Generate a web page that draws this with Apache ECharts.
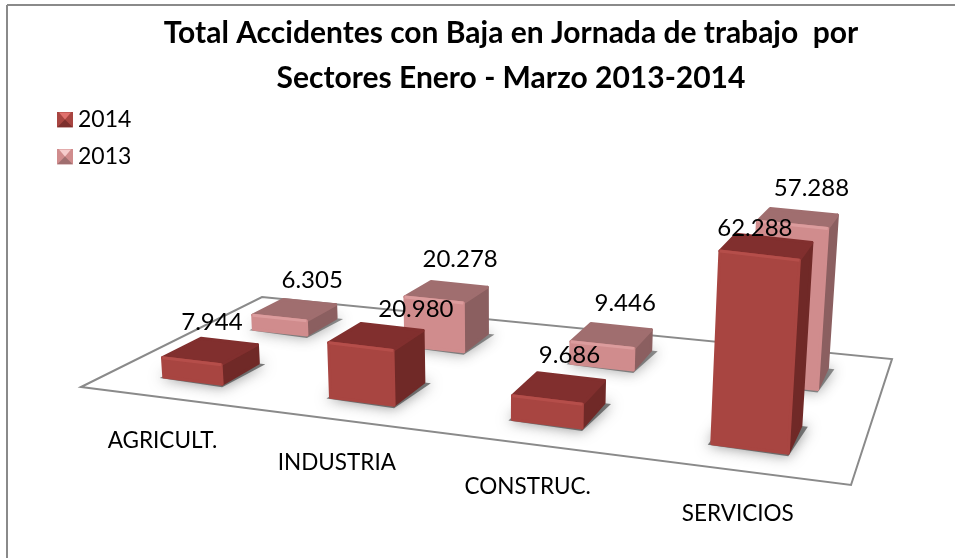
<!DOCTYPE html>
<html><head><meta charset="utf-8">
<style>html,body{margin:0;padding:0;background:#fff}#c{width:955px;height:558px}</style>
<script src="https://cdn.jsdelivr.net/npm/echarts@6/dist/echarts.min.js"></script>
</head><body><div id="c"></div>
<script>
const categories = ['AGRICULT.', 'INDUSTRIA', 'CONSTRUC.', 'SERVICIOS'];
const values2014 = [7.944, 20.980, 9.686, 62.288];
const values2013 = [6.305, 20.278, 9.446, 57.288];
const titleLines = ['Total Accidentes con Baja en Jornada de trabajo  por', 'Sectores Enero - Marzo 2013-2014'];

// Perspective floor (screen corners of the unit floor) and drawing constants
const A=[81,387], D=[851,485], C=[892,359], B=[262,297];
const dx1=D[0]-C[0], dx2=B[0]-C[0], dx3=A[0]-D[0]+C[0]-B[0];
const dy1=D[1]-C[1], dy2=B[1]-C[1], dy3=A[1]-D[1]+C[1]-B[1];
const den=dx1*dy2-dx2*dy1;
const hg=(dx3*dy2-dx2*dy3)/den, hh=(dx1*dy3-dx3*dy1)/den;
const ha=D[0]-A[0]+hg*D[0], hb=B[0]-A[0]+hh*B[0], hd=D[1]-A[1]+hg*D[1], he=B[1]-A[1]+hh*B[1];
function floorPt(u,v){const w=hg*u+hh*v+1;return [(ha*u+hb*v+A[0])/w,(hd*u+he*v+A[1])/w];}
function raise(p,h){return [p[0]+(p[0]-500)*h/5000,p[1]-h];}

const palette = {
  '2014': {front:'#a84541', top:'#812f2e', side:'#702927', hi:'#b54e4a', shadow:'rgba(70,70,70,0.7)'},
  '2013': {front:'#d08c8d', top:'#a06e6f', side:'#8b5f60', hi:'#dc9c9d', shadow:'rgba(70,70,70,0.6)'}
};
const labelNudge = {
  '2014': [[2,-29],[40,-28],[11,-33],[-11,-19]],
  '2013': [[18,-30],[14,-33],[14,-33],[14,-30]]
};

function boxGeom(api, row){
  const i=api.value(0), val=api.value(1);
  const u0=.25*i+.08, u1=u0+.09;
  const v0=row===0?.15:.65, v1=v0+.2;
  const k=api.size([0,val])[1];
  const h=(k+val*val*0.012)*(row===0?1:0.926);
  const hBack=h*0.95;
  const fl=floorPt(u0,v0), fr=floorPt(u1,v0), br=floorPt(u1,v1), bl=floorPt(u0,v1);
  return {fl,fr,br,bl,flT:raise(fl,h),frT:raise(fr,h),brT:raise(br,hBack),blT:raise(bl,hBack)};
}
function face(points,color){
  return {type:'polygon',shape:{points},style:{fill:color,stroke:color,lineWidth:3,lineJoin:'round'}};
}
function barRenderer(name,row){
  const c=palette[name];
  return function(params,api){
    const g=boxGeom(api,row);
    const sh=[[g.fl[0]-4,g.fl[1]+1],[g.fr[0],g.fr[1]+3],[g.br[0]+7,g.br[1]+1],[g.bl[0],g.bl[1]]];
    return {type:'group',children:[
      {type:'polygon',shape:{points:sh},style:{fill:c.shadow,shadowBlur:14,shadowColor:'rgba(60,60,60,0.8)'}},
      face([g.fr,g.br,g.brT,g.frT],c.side),
      face([g.flT,g.frT,g.brT,g.blT],c.top),
      face([g.fl,g.fr,g.frT,g.flT],c.front),
      {type:'line',shape:{x1:g.flT[0],y1:g.flT[1],x2:g.frT[0],y2:g.frT[1]},style:{stroke:c.hi,lineWidth:3}}
    ]};
  };
}
function labelRenderer(name,row){
  return function(params,api){
    const g=boxGeom(api,row), i=api.value(0), val=api.value(1), n=labelNudge[name][i];
    const x=(g.flT[0]+g.brT[0])/2+n[0], y=(g.flT[1]+g.frT[1]+g.brT[1]+g.blT[1])/4+n[1];
    return {type:'text',style:{x,y,text:val.toFixed(3),fill:'#000',font:'24px Lato',align:'center',verticalAlign:'middle'}};
  };
}
function icon(light,mid,darker){
  const svg="<svg xmlns='http://www.w3.org/2000/svg' width='16' height='16'>"+
   "<rect width='16' height='16' fill='"+mid+"'/>"+
   "<polygon points='2,1 14,1 8,8' fill='"+light+"'/>"+
   "<polygon points='0,16 16,16 8,8' fill='"+darker+"'/></svg>";
  return 'image://data:image/svg+xml,'+encodeURIComponent(svg);
}
const toData=a=>a.map((v,i)=>[i,v]);
const chart=echarts.init(document.getElementById('c'),null,{renderer:'canvas'});
chart.setOption({
  animation:false,
  backgroundColor:'#fff',
  title:{text:titleLines.join('\n'),left:506,top:6,textAlign:'center',
    textStyle:{fontFamily:'Lato',fontWeight:'bold',fontSize:30,lineHeight:45,color:'#000'}},
  legend:{orient:'vertical',left:52,top:103,itemWidth:16,itemHeight:16,itemGap:14,selectedMode:false,
    textStyle:{fontFamily:'Lato',fontSize:23,color:'#000'},
    data:[{name:'2014',icon:icon('#e0706c','#a84541','#7d2f2d')},
          {name:'2013',icon:icon('#f6cccc','#d08c8d','#a06e6f')}]},
  grid:{left:81,right:60,top:150,height:235},
  xAxis:{type:'category',data:categories,show:false},
  yAxis:{type:'value',min:0,max:100,show:false},
  graphic:[
    {type:'line',shape:{x1:7,y1:5,x2:955,y2:5},style:{stroke:'#8a8a8a',lineWidth:2}},
    {type:'line',shape:{x1:7,y1:5,x2:7,y2:558},style:{stroke:'#8a8a8a',lineWidth:2}}
  ],
  series:[
    {type:'custom',name:'suelo',silent:true,z:1,data:[[0,0]],renderItem(){
      const pts=[floorPt(0,0),floorPt(1,0),floorPt(1,1),floorPt(0,1)];
      return {type:'polygon',shape:{points:pts},style:{fill:'#fff',stroke:'#8a8a8a',lineWidth:2}};
    }},
    {type:'custom',name:'2013',silent:true,z:2,data:toData(values2013),encode:{x:0,y:1},
      renderItem:barRenderer('2013',1),itemStyle:{color:palette['2013'].front}},
    {type:'custom',name:'2014',silent:true,z:3,data:toData(values2014),encode:{x:0,y:1},
      renderItem:barRenderer('2014',0),itemStyle:{color:palette['2014'].front}},
    {type:'custom',name:'categorias',silent:true,z:4,data:categories.map((c,i)=>[i,0]),renderItem(params,api){
      const i=api.value(0), p=floorPt((i+.5)/4,0);
      return {type:'text',style:{x:p[0],y:p[1]+43,text:categories[i],fill:'#000',font:'22.5px Lato',align:'center',verticalAlign:'middle'}};
    }},
    {type:'custom',name:'etiquetas 2013',silent:true,z:5,data:toData(values2013),renderItem:labelRenderer('2013',1)},
    {type:'custom',name:'etiquetas 2014',silent:true,z:5,data:toData(values2014),renderItem:labelRenderer('2014',0)}
  ]
});
</script></body></html>
